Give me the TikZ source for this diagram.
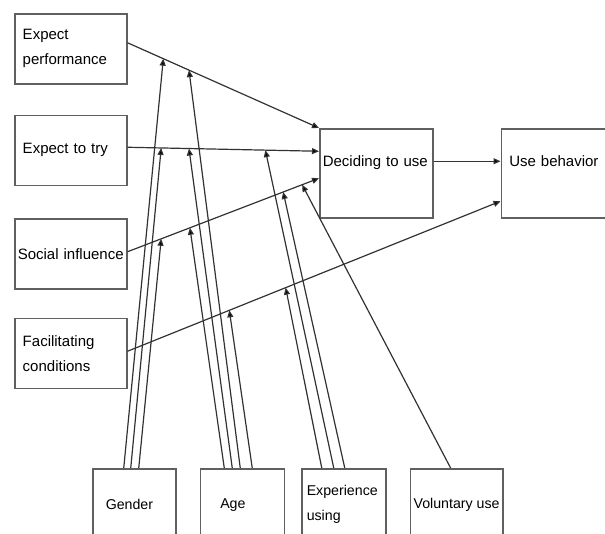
\documentclass[tikz,border=0pt]{standalone}
\usepackage{fontspec}
\setmainfont{Liberation Sans}
\usetikzlibrary{arrows.meta,positioning}
\definecolor{boxgray}{RGB}{96,96,96}
\definecolor{linegray}{RGB}{50,50,50}
\tikzset{
  box/.style={
    rectangle,
    draw=boxgray,
    line width=1.5pt,
    align=left,
    minimum width=112pt,
    minimum height=70pt,
    text width=96pt,
    inner xsep=8pt,
    font=\fontsize{15}{25}\selectfont
  },
  outcome/.style={
    box,
    minimum height=89pt,
    inner ysep=0pt,
    text height=38pt,
    text depth=51pt
  },
  modbox/.style={
    rectangle,
    draw=boxgray,
    line width=1.5pt,
    align=left,
    minimum height=72pt,
    font=\fontsize{14.2}{25}\selectfont
  },
  arrow/.style={-{Triangle[length=7pt,width=6pt,fill=black]}, draw=linegray, line width=1.2pt}
}
\begin{document}
\begin{tikzpicture}[x=1pt, y=-1pt]
    \useasboundingbox (0,0) rectangle (605,533);
    \node[box, anchor=north west] (ep) at (14,13) {Expect\\performance};
    \node[box, below=30pt of ep] (et) {Expect to try};
    \node[box, below=32pt of et, align=center, text width=110pt, inner xsep=1pt] (si) {Social influence};
    \node[box, below=28pt of si] (fc) {Facilitating\\conditions};

    \node[outcome, anchor=north west, minimum width=113pt, text width=107pt, inner xsep=3pt] (dec) at (319,128) {Deciding to use};
    \node[outcome, right=67pt of dec, minimum width=116pt, text width=100pt, inner xsep=8pt] (use) {Use behavior};

    \node[modbox, anchor=north west, minimum width=83pt, text width=57pt, inner xsep=13pt] (gen) at (92,468) {Gender};
    \node[modbox, right=23pt of gen, minimum width=84pt, text width=44pt, inner xsep=20pt] (age) {Age};
    \node[modbox, right=16pt of age, minimum width=84pt, text width=74pt, inner xsep=5pt] (exp) {Experience\\using};
    \node[modbox, right=23pt of exp, minimum width=92pt, align=center] (vol) {Voluntary use};

    \draw[arrow] ([yshift=6pt]ep.east) -- (dec.north west)
      coordinate[pos=0.187] (ep1) coordinate[pos=0.321] (ep2);
    \draw[arrow] ([yshift=3pt]et.east) -- ([yshift=22pt]dec.west)
      coordinate[pos=0.176] (et1) coordinate[pos=0.321] (et2) coordinate[pos=0.72] (et3);
    \draw[arrow] ([yshift=2pt]si.east) -- ([yshift=-5pt]dec.west)
      coordinate[pos=0.176] (si1) coordinate[pos=0.326] (si2) coordinate[pos=0.813] (si3) coordinate[pos=0.912] (si4);
    \draw[arrow] ([yshift=2pt]fc.east) -- ([yshift=-28pt]use.west)
      coordinate[pos=0.273] (fc1) coordinate[pos=0.424] (fc2);
    \draw[arrow] ([yshift=12pt]dec.east) -- ([yshift=12pt]use.west);

    \draw[arrow] ([xshift=-10.5pt]gen.north) -- (ep1);
    \draw[arrow] ([xshift=-3.5pt]gen.north) -- (et1);
    \draw[arrow] ([xshift=4.5pt]gen.north) -- (si1);
    \draw[arrow] ([xshift=-18pt]age.north) -- (si2);
    \draw[arrow] ([xshift=-10pt]age.north) -- (et2);
    \draw[arrow] ([xshift=-2pt]age.north) -- (ep2);
    \draw[arrow] ([xshift=10pt]age.north) -- (fc1);
    \draw[arrow] ([xshift=-22pt]exp.north) -- (fc2);
    \draw[arrow] ([xshift=-10pt]exp.north) -- (et3);
    \draw[arrow] ([xshift=1pt]exp.north) -- (si3);
    \draw[arrow] ([xshift=-6pt]vol.north) -- (si4);
  \end{tikzpicture}
\end{document}
